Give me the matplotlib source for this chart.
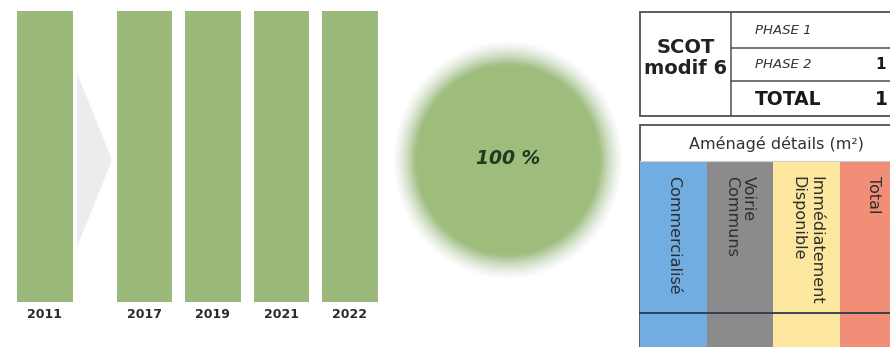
#!/usr/bin/env python3
"""Avancement de la zone : barres par année, pastille de remplissage et tableaux SCOT"""
import numpy as np
import matplotlib
matplotlib.use("Agg")
import matplotlib.pyplot as plt
from matplotlib.patches import Rectangle, Polygon

# --- data ---
years = ['2011', '2017', '2019', '2021', '2022']
pct_done = [100, 100, 100, 100, 100]
overall_pct = 100

scot_title = 'SCOT\nmodif 6'
scot_rows = ['PHASE 1', 'PHASE 2', 'TOTAL']
scot_values = ['', '1', '1']  # numbers are cut by the right edge

detail_title = 'Aménagé détails (m²)'
detail_cols = ['Commercialisé', 'Voirie\nCommuns', 'Immédiatement\nDisponible', 'Total']
detail_colors = ['#72ade2', '#8b8b8d', '#fde79f', '#f08e78']

BAR_GREEN = '#9bb97b'
EDGE = '#505050'
TXT = '#2b2b2b'

W, H = 890, 347
fig = plt.figure(figsize=(W / 100, H / 100), dpi=100)

# full-figure axes in pixel units (y downwards) for decorations and tables
ax = fig.add_axes([0, 0, 1, 1])
ax.axis('off')

# light gray chevron between 2011 and 2017
ax.add_patch(Polygon([(77, 73), (112, 160), (77, 247)], closed=True,
                     facecolor='#ececee', edgecolor='none', zorder=1))

# soft edged circle
cx, cy, rx, ry = 508, 160, 113, 117
n = 400
xs = np.linspace(cx - 150, cx + 150, n)
ys = np.linspace(cy - 150, cy + 150, n)
gx, gy = np.meshgrid(xs, ys)
r = np.sqrt(((gx - cx) / rx) ** 2 + ((gy - cy) / ry) ** 2)
alpha = np.clip((1.02 - r) / 0.2, 0, 1)
rgba = np.zeros((n, n, 4))
base = np.array(matplotlib.colors.to_rgb('#9ebd7d'))
edge_col = np.array(matplotlib.colors.to_rgb('#c9d6c4'))
mix = np.clip((r - 0.8) / 0.22, 0, 1)[..., None]
rgba[..., :3] = base * (1 - mix) + edge_col * mix
rgba[..., 3] = alpha
ax.imshow(rgba, extent=(cx - 150, cx + 150, cy + 150, cy - 150),
          origin='upper', aspect='auto', interpolation='bilinear', zorder=1)
ax.text(cx, cy - 2, f'{overall_pct} %', ha='center', va='center',
        fontsize=13.5, fontweight='bold', fontstyle='italic', color='#1f3a1f', zorder=3)

# table 1 : SCOT modif 6
t1_left, t1_top, t1_bot, t1_split = 640, 12, 116, 731
ax.add_patch(Rectangle((t1_left, t1_top), 260, t1_bot - t1_top, facecolor='white',
                       edgecolor=EDGE, lw=1.3, zorder=2))
ax.plot([t1_split, t1_split], [t1_top, t1_bot], color=EDGE, lw=1.1, zorder=3)
row_lines = [47.5, 81]
for yl in row_lines:
    ax.plot([t1_split, W], [yl, yl], color=EDGE, lw=1.1, zorder=3)
ax.text((t1_left + t1_split) / 2, 58, scot_title, ha='center', va='center',
        fontsize=14, fontweight='bold', color='#222222', linespacing=1.15, zorder=4)
row_y = [30, 64, 99]
for i, (lab, val) in enumerate(zip(scot_rows, scot_values)):
    if lab == 'TOTAL':
        ax.text(755, row_y[i], lab, ha='left', va='center', fontsize=13.5,
                fontweight='bold', color='#1a1a1a', zorder=4)
        ax.text(875, row_y[i], val, ha='left', va='center', fontsize=13.5,
                fontweight='bold', color='#1a1a1a', zorder=4)
    else:
        ax.text(755, row_y[i], lab, ha='left', va='center', fontsize=9.5,
                fontstyle='italic', color='#333333', zorder=4)
        ax.text(875, row_y[i], val, ha='left', va='center', fontsize=11,
                fontweight='bold', color='#1a1a1a', zorder=4)

# table 2 : détails aménagé
t2_left, t2_top, t2_head = 640, 125, 161
col_w = 66.7
ax.add_patch(Rectangle((t2_left, t2_top), 260, 240, facecolor='white',
                       edgecolor=EDGE, lw=1.3, zorder=2))
ax.text(776, 144, detail_title, ha='center', va='center', fontsize=11.5,
        color='#333333', zorder=4)
for i, (lab, col) in enumerate(zip(detail_cols, detail_colors)):
    x0 = t2_left + i * col_w
    ax.add_patch(Rectangle((x0, t2_head), col_w, H - t2_head + 5, facecolor=col,
                           edgecolor='none', zorder=3))
    ax.text(x0 + col_w / 2, 176, lab, rotation=270, ha='center', va='top',
            multialignment='left', fontsize=11.5, color='#2e2e2e',
            linespacing=1.2, zorder=4)
ax.plot([t2_left, W], [t2_head, t2_head], color='#cfcfcf', lw=0.8, zorder=3)
ax.plot([t2_left, W], [313, 313], color='#2d3a4a', lw=1.3, zorder=4)

ax.set_xlim(0, W)
ax.set_ylim(H, 0)

# bars by year (gap after the first year)
pos = np.arange(len(years)) + np.where(np.arange(len(years)) > 0, 0.45, 0.0)
unit = 68.5
bx = fig.add_axes([0, 45 / H, 400 / W, 291 / H])
bx.patch.set_alpha(0)
bx.bar(pos, pct_done, width=0.81, color=BAR_GREEN, edgecolor='none', zorder=2)
bx.set_xlim(-45 / unit, (400 - 45) / unit)
bx.set_ylim(0, 100)
bx.set_xticks(pos)
bx.set_xticklabels(years, fontsize=9, fontweight='bold', color=TXT)
bx.tick_params(axis='x', length=0, pad=4)
bx.set_yticks([])
for s in bx.spines.values():
    s.set_visible(False)

fig.savefig('out.png', dpi=100, facecolor='white')
